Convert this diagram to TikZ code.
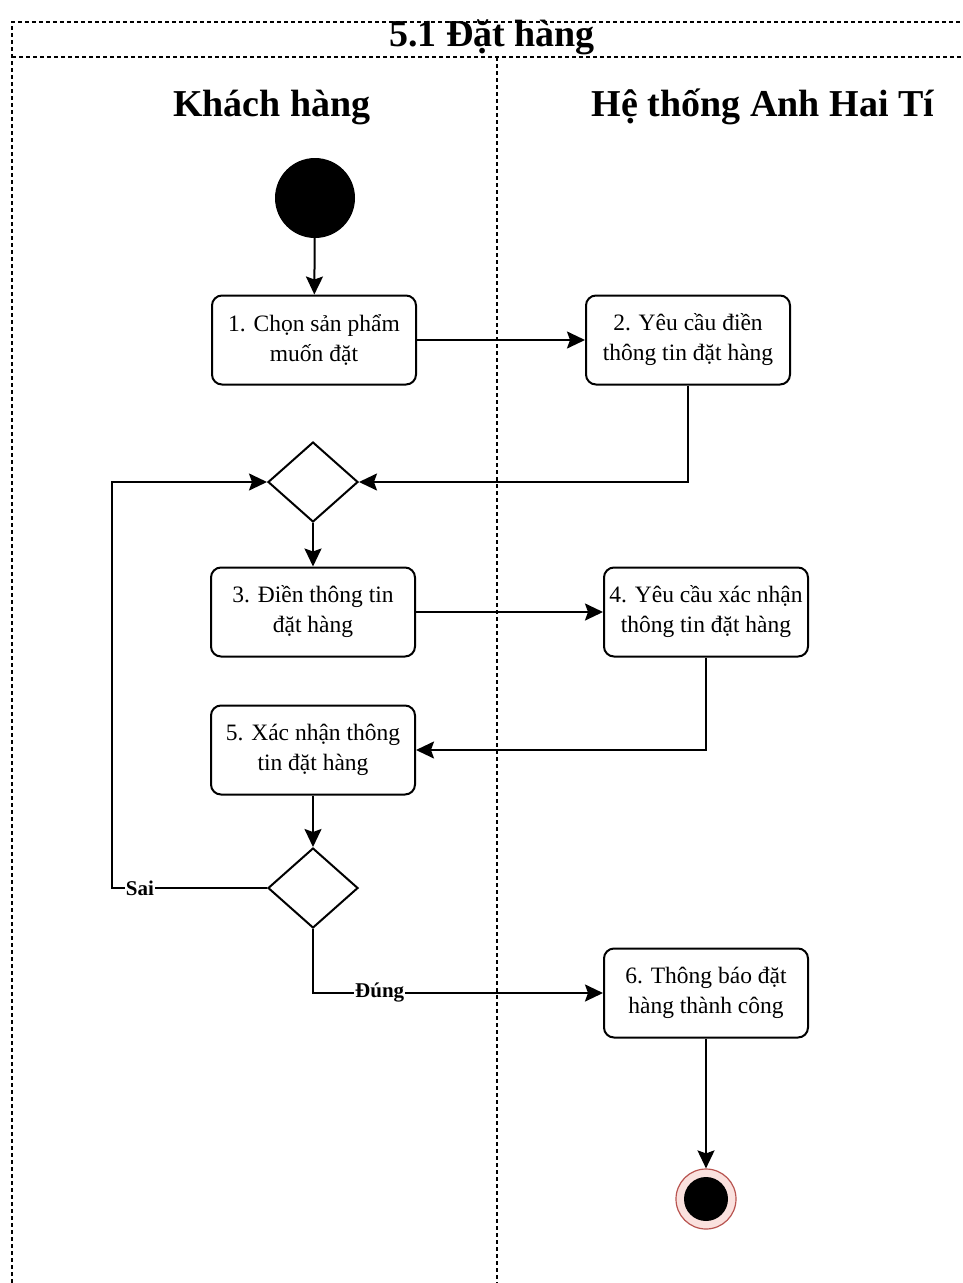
\documentclass[tikz,border=0pt]{standalone}
\usepackage{fontspec}
\setmainfont{Liberation Serif}
\usetikzlibrary{shapes.geometric,arrows.meta}
\tikzstyle{act} = [draw=black, line width=2pt, rounded corners=10pt, minimum width=204pt, minimum height=89pt, align=center, inner sep=0pt, font={\fontsize{23.5}{30}\selectfont}]
\tikzstyle{dec} = [draw=black, line width=2pt, diamond, minimum width=90pt, minimum height=80pt, inner sep=0pt]
\tikzstyle{flow} = [line width=2pt, -{Stealth[length=18pt, width=17pt, inset=3pt]}]
\tikzstyle{lane} = [line width=1.2pt, dash pattern=on 4pt off 3pt]
\tikzstyle{head} = [anchor=base, font={\fontsize{38}{42}\selectfont\bfseries}]
\tikzstyle{lbl} = [fill=white, inner sep=1pt, font={\fontsize{21}{23}\selectfont\bfseries}]

\begin{document}
\begin{tikzpicture}[x=1pt,y=-1pt]
    \useasboundingbox (0,0) rectangle (963,1283);
    \draw[lane] (12,1283) -- (12,22) -- (963,22);
    \draw[lane] (12,57) -- (963,57);
    \draw[lane] (497,57) -- (497,1283);
    \node[head](title) at (492,46){5.1 Đặt hàng};
    \node[head](kh) at (272,116){Khách hàng};
    \node[head](ht) at (763,116){Hệ thống Anh Hai Tí};
    \node[circle,fill=black,minimum size=80pt,inner sep=0pt](start) at (315,198){};
    \node[act](1) at (314,340){1. Chọn sản phẩm\\muốn đặt};
    \node[act](2) at (688,340){2. Yêu cầu điền\\thông tin đặt hàng};
    \node[dec](d1) at (313,482){};
    \node[act](3) at (313,612){3. Điền thông tin\\đặt hàng};
    \node[act](4) at (706,612){4. Yêu cầu xác nhận\\thông tin đặt hàng};
    \node[act](5) at (313,750){5. Xác nhận thông\\tin đặt hàng};
    \node[dec](d2) at (313,888){};
    \node[act](6) at (706,993){6. Thông báo đặt\\hàng thành công};
    \node[circle,draw={rgb,255:red,184;green,84;blue,80},fill={rgb,255:red,250;green,225;blue,222},line width=1.2pt,minimum size=60pt,inner sep=0pt](end) at (706,1199){};
    \node[circle,fill=black,minimum size=44pt,inner sep=0pt](endin) at (end){};
    \coordinate (sai) at (112,888);
    \draw[flow](start)--(1);
    \draw[flow](1)--(2);
    \draw[flow](2.south)|-(d1.east);
    \draw[flow](d1)--(3);
    \draw[flow](3)--(4);
    \draw[flow](4.south)|-(5.east);
    \draw[flow](5)--(d2);
    \draw[flow](d2.west)--node[lbl,pos=0.82](sailbl){Sai}(sai)|-(d1.west);
    \draw[flow](d2.south)|-node[lbl,pos=0.615](dunglbl){Đúng}(6.west);
    \draw[flow](6)--(end);
  \end{tikzpicture}
\end{document}
